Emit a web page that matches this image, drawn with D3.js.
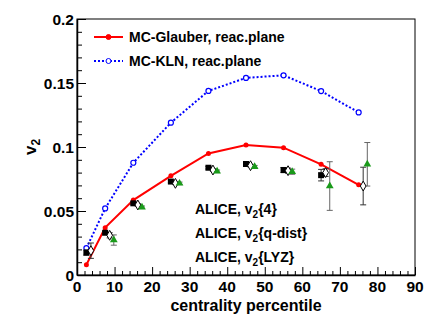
<!DOCTYPE html>
<html>
<head>
<meta charset="utf-8">
<script src="https://cdn.jsdelivr.net/npm/d3@7"></script>
<style>
body{margin:0;background:#fff;}
text{font-family:"Liberation Sans",Arial,sans-serif;font-weight:bold;}
</style>
</head>
<body>
<div id="canvas"></div>
<script>
// centrality bins
var cent = [2.5, 7.5, 15, 25, 35, 45, 55, 65, 75];
var glauber = [0.008, 0.037, 0.0585, 0.0775, 0.095, 0.1015, 0.0995, 0.0865, 0.0705];
var kln = [0.021, 0.052, 0.0877, 0.119, 0.1438, 0.154, 0.156, 0.1437, 0.127];

// ALICE data
var cent4 = [2.5, 7.5, 15, 25, 35, 45, 55, 65];
var v24 = [0.0175, 0.033, 0.056, 0.073, 0.0838, 0.0867, 0.082, 0.078];
var v24err = [0.002, 0.001, 0.001, 0.001, 0.001, 0.001, 0.002, 0.0045];
var centQ = [2.5, 7.5, 15, 25, 35, 45, 55, 65, 75];
var v2q = [0.019, 0.031, 0.0547, 0.0716, 0.082, 0.0854, 0.0815, 0.080, 0.0695];
var v2qerr = [0.006, 0.002, 0.001, 0.001, 0.001, 0.001, 0.002, 0.003, 0.0147];
var centLyz = [7.5, 15, 25, 35, 45, 55, 65, 75];
var v2lyz = [0.0273, 0.0529, 0.0716, 0.081, 0.0846, 0.0807, 0.0695, 0.0865];
var v2lyzerr = [0.004, 0.001, 0.001, 0.001, 0.001, 0.002, 0.019, 0.017];

var xTicks = [0, 10, 20, 30, 40, 50, 60, 70, 80, 90];
var yTicks = [0, 0.05, 0.1, 0.15, 0.2];
var yTickLabels = ['0', '0.05', '0.1', '0.15', '0.2'];

var m = {t:19, r:17, b:53, l:77},
    W = 432, H = 328,
    w = W - m.l - m.r,
    h = H - m.t - m.b;

var svg = d3.select('#canvas').append('svg')
    .attr('width', W).attr('height', H);
var plot = svg.append('g')
    .attr('transform', 'translate(' + m.l + ',' + m.t + ')');

var x = d3.scaleLinear().domain([0, 90]).range([0, w]);
var y = d3.scaleLinear().domain([0, 0.2]).range([h, 0]);

// frame
plot.append('rect').attr('width', w).attr('height', h)
    .style('fill', 'none').style('stroke', '#000').style('stroke-width', 1);

// ticks (root style, pointing inward)
var xAxis = d3.axisBottom(x).tickValues(d3.range(0, 91, 2)).tickSizeInner(0).tickSizeOuter(0).tickFormat('');
var gx = plot.append('g').attr('transform', 'translate(0,' + h + ')').call(xAxis);
gx.selectAll('.tick line').attr('y2', function(d){ return d % 10 == 0 ? -8 : -4; });
var yAxis = d3.axisLeft(y).tickValues(d3.range(0, 0.2001, 0.01)).tickSizeInner(0).tickSizeOuter(0).tickFormat('');
var gy = plot.append('g').call(yAxis);
gy.selectAll('.tick line').attr('x2', function(d, i){ return i % 5 == 0 ? 9 : 5; });
plot.selectAll('.domain').style('stroke', '#000').style('stroke-width', 1.5);

// tick labels
plot.selectAll('.xlab').data(xTicks).enter().append('text')
    .attr('x', function(d){ return x(d); }).attr('y', h + 17)
    .attr('text-anchor', 'middle').style('font-size', '15.5px')
    .text(function(d){ return d; });
plot.selectAll('.ylab').data(yTicks).enter().append('text')
    .attr('x', -3).attr('y', function(d){ return y(d) + 5.5; })
    .attr('text-anchor', 'end').style('font-size', '15.5px')
    .text(function(d, i){ return yTickLabels[i]; });

// axis titles
plot.append('text').attr('x', w/2).attr('y', h + 36)
    .attr('text-anchor', 'middle').style('font-size', '16px').text('centrality percentile');
var yt = plot.append('text')
    .attr('transform', 'translate(' + (-41) + ',' + (h/2) + ') rotate(-90)')
    .attr('text-anchor', 'middle').style('font-size', '17px');
yt.append('tspan').text('v');
yt.append('tspan').attr('dy', 4).style('font-size', '12px').text('2');

// model curves
var line = d3.line()
    .x(function(d){ return x(d[0]); })
    .y(function(d){ return y(d[1]); });

var glData = d3.zip(cent, glauber);
var klnData = d3.zip(cent, kln);

plot.append('path').datum(klnData).attr('d', line)
    .style('fill', 'none').style('stroke', '#0000ff').style('stroke-width', 2)
    .style('stroke-dasharray', '2,2');
plot.selectAll('.kln').data(klnData).enter().append('circle')
    .attr('cx', function(d){ return x(d[0]); }).attr('cy', function(d){ return y(d[1]); })
    .attr('r', 2.5).style('fill', '#fff').style('stroke', '#0000ff').style('stroke-width', 1.2);

plot.append('path').datum(glData).attr('d', line)
    .style('fill', 'none').style('stroke', '#ff0000').style('stroke-width', 2);
plot.selectAll('.gl').data(glData).enter().append('circle')
    .attr('cx', function(d){ return x(d[0]); }).attr('cy', function(d){ return y(d[1]); })
    .attr('r', 2.5).style('fill', '#ff0000');

// data points with error bars, dodged a little along x
function errBars(xs, vals, errs, dx, color, width){
    var g = plot.append('g');
    xs.forEach(function(c, i){
        var px = x(c + dx);
        g.append('line').attr('x1', px).attr('x2', px)
            .attr('y1', y(vals[i] - errs[i])).attr('y2', y(vals[i] + errs[i]))
            .style('stroke', color).style('stroke-width', width);
        [vals[i] - errs[i], vals[i] + errs[i]].forEach(function(v){
            g.append('line').attr('x1', px - 3).attr('x2', px + 3)
                .attr('y1', y(v)).attr('y2', y(v))
                .style('stroke', color).style('stroke-width', 1);
        });
    });
}

errBars(cent4, v24, v24err, 0, '#333', 1);
errBars(centQ, v2q, v2qerr, 1.2, '#333', 1);
errBars(centLyz, v2lyz, v2lyzerr, 2.3, '#666', 1);

var sq = d3.symbol().type(d3.symbolSquare).size(36);
var cir = d3.symbol().type(d3.symbolDiamond).size(28);
var tri = d3.symbol().type(d3.symbolTriangle).size(26);

plot.selectAll('.v24').data(d3.zip(cent4, v24)).enter().append('path')
    .attr('d', sq).attr('transform', function(d){ return 'translate(' + x(d[0]) + ',' + y(d[1]) + ')'; })
    .style('fill', '#000');
plot.selectAll('.v2q').data(d3.zip(centQ, v2q)).enter().append('path')
    .attr('d', cir).attr('transform', function(d){ return 'translate(' + x(d[0] + 1.2) + ',' + y(d[1]) + ')'; })
    .style('fill', '#fff').style('stroke', '#000').style('stroke-width', 1);
plot.selectAll('.lyz').data(d3.zip(centLyz, v2lyz)).enter().append('path')
    .attr('d', tri).attr('transform', function(d){ return 'translate(' + x(d[0] + 2.3) + ',' + y(d[1]) + ')'; })
    .style('fill', '#1a9a1a');

// legend: models
var leg1 = [
    {label:'MC-Glauber, reac.plane', color:'#ff0000', dash:null, fill:'#ff0000'},
    {label:'MC-KLN, reac.plane', color:'#0000ff', dash:'2,2', fill:'#fff'}
];
var l1 = plot.selectAll('.leg1').data(leg1).enter().append('g')
    .attr('transform', function(d, i){ return 'translate(17,' + (18 + i*24) + ')'; });
l1.append('line').attr('x1', 0).attr('x2', 29)
    .style('stroke', function(d){ return d.color; }).style('stroke-width', 2)
    .style('stroke-dasharray', function(d){ return d.dash; });
l1.append('circle').attr('cx', 14.5).attr('r', 2.5)
    .style('fill', function(d){ return d.fill; }).style('stroke', function(d){ return d.color; });
l1.append('text').attr('x', 35).attr('y', 5).style('font-size', '14px')
    .text(function(d){ return d.label; });

// legend: ALICE
var leg2 = [
    {sym:sq, fill:'#000', stroke:'none', sub:'{4}'},
    {sym:cir, fill:'#fff', stroke:'#000', sub:'{q-dist}'},
    {sym:tri, fill:'#1a9a1a', stroke:'none', sub:'{LYZ}'}
];
var l2 = plot.selectAll('.leg2').data(leg2).enter().append('g')
    .attr('transform', function(d, i){ return 'translate(106,' + (189.5 + i*24) + ')'; });
l2.append('path').attr('d', function(d){ return d.sym; })
    .style('fill', function(d){ return d.fill; }).style('stroke', function(d){ return d.stroke; });
var t2 = l2.append('text').attr('x', 12).attr('y', 5).style('font-size', '14px');
t2.append('tspan').text('ALICE, v');
t2.append('tspan').attr('dy', 4).style('font-size', '10px').text('2');
t2.append('tspan').attr('dy', -4).text(function(d){ return d.sub; });
</script>
</body>
</html>
